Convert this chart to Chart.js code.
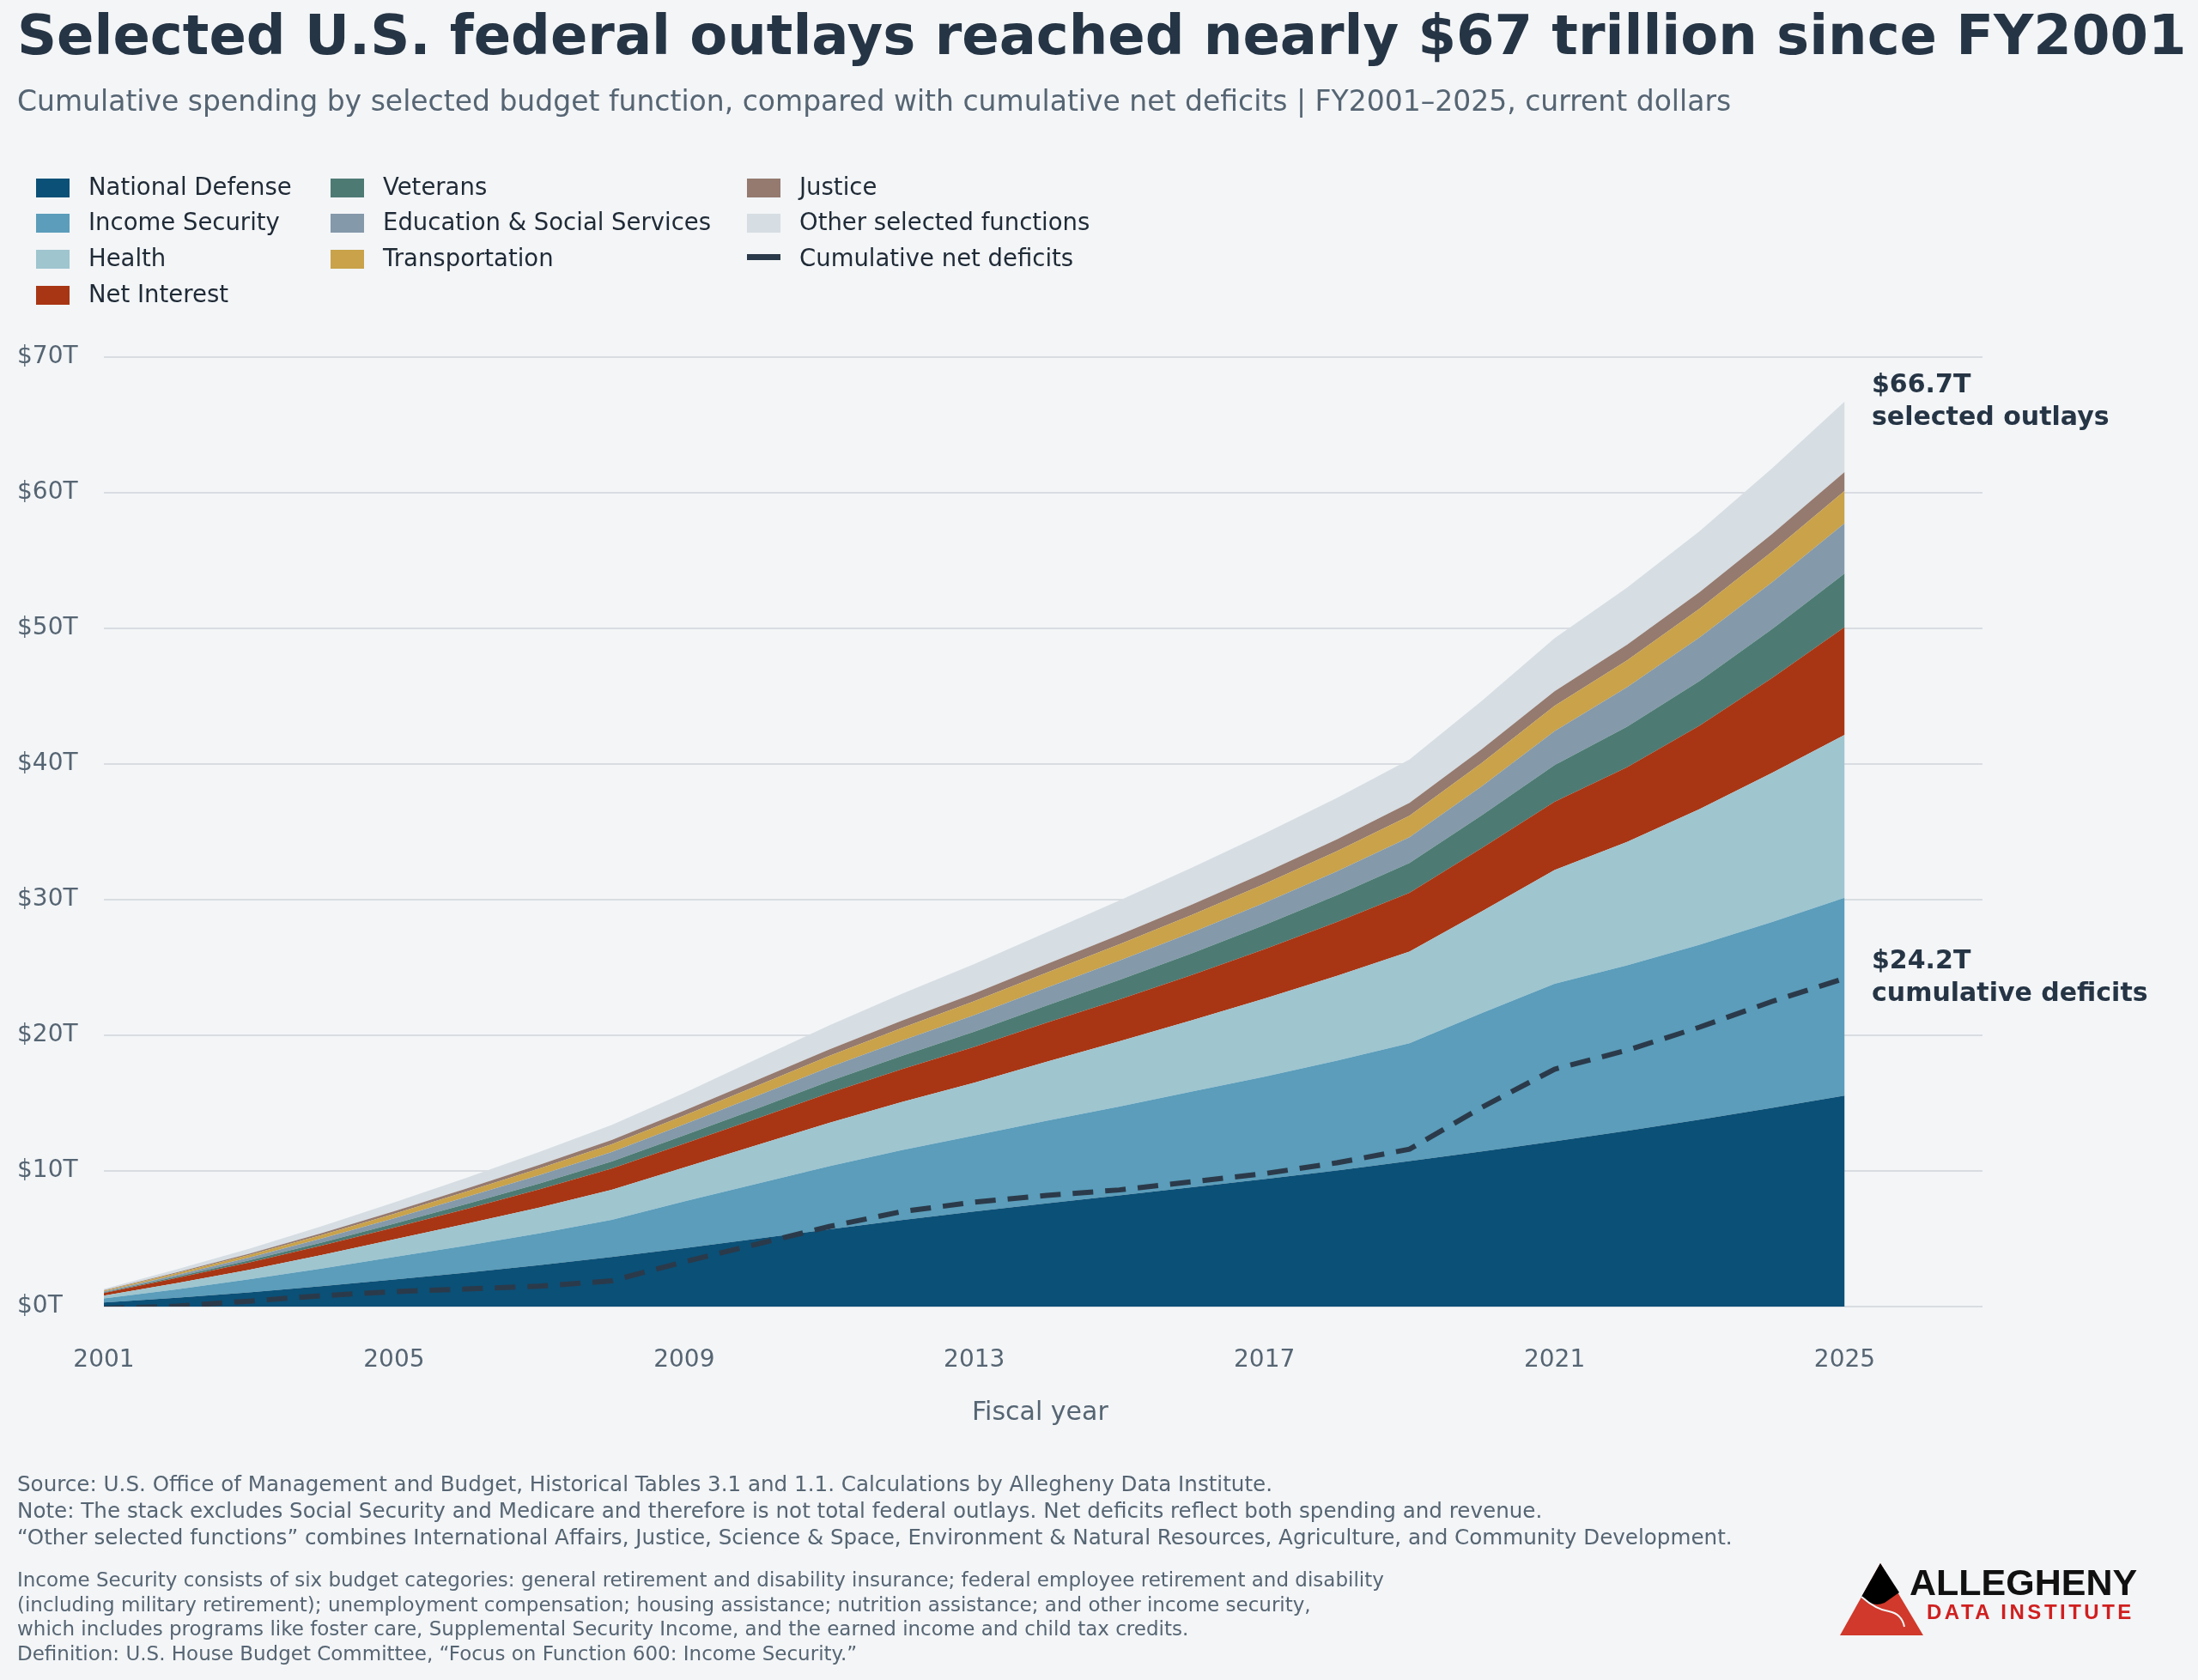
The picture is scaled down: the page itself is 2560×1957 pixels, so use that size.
<!DOCTYPE html>
<html>
<head>
<meta charset="utf-8">
<script src="https://cdn.jsdelivr.net/npm/chart.js@4/dist/chart.umd.min.js"></script>
<style>
  body { margin: 0; background: #f3f5f7; font-family: "DejaVu Sans", sans-serif; }
  #wrap { position: relative; width: 2560px; height: 1957px; overflow: hidden; }
  canvas { position: absolute; left: 0; top: 0; }
  .t { position: absolute; white-space: nowrap; }
  .lg { position: absolute; font-size: 27.5px; color: #1f2a36; white-space: nowrap; }
  .lg i { display: inline-block; width: 39px; height: 22px; vertical-align: -3px; margin-right: 22px; }
  .lg b { display: inline-block; width: 39px; height: 7px; background: #2b3a4a; vertical-align: 7px; margin-right: 22px; }
</style>
</head>
<body>
<div id="wrap">
  <canvas id="myChart" width="2560" height="1957"></canvas>
  <div class="t" style="left:20px;top:4px;font-size:64px;font-weight:bold;color:#263545;">Selected U.S. federal outlays reached nearly $67 trillion since FY2001</div>
  <div class="t" style="left:20px;top:98px;font-size:33px;color:#566573;">Cumulative spending by selected budget function, compared with cumulative net deficits | FY2001–2025, current dollars</div>
  <div id="legend"></div>
  <div class="t" style="left:2180px;top:428px;font-size:30px;font-weight:bold;color:#263545;line-height:38px;">$66.7T<br>selected outlays</div>
  <div class="t" style="left:2180px;top:1099px;font-size:30px;font-weight:bold;color:#263545;line-height:38px;">$24.2T<br>cumulative deficits</div>
  <div class="t" style="left:1132px;top:1626px;font-size:30px;color:#566573;">Fiscal year</div>
  <div class="t" style="left:20px;top:1713px;font-size:24.6px;color:#566573;line-height:31px;">Source: U.S. Office of Management and Budget, Historical Tables 3.1 and 1.1. Calculations by Allegheny Data Institute.<br>Note: The stack excludes Social Security and Medicare and therefore is not total federal outlays. Net deficits reflect both spending and revenue.<br>“Other selected functions” combines International Affairs, Justice, Science &amp; Space, Environment &amp; Natural Resources, Agriculture, and Community Development.</div>
  <div class="t" style="left:20px;top:1826px;font-size:23px;color:#566573;line-height:28.5px;">Income Security consists of six budget categories: general retirement and disability insurance; federal employee retirement and disability<br>(including military retirement); unemployment compensation; housing assistance; nutrition assistance; and other income security,<br>which includes programs like foster care, Supplemental Security Income, and the earned income and child tax credits.<br>Definition: U.S. House Budget Committee, “Focus on Function 600: Income Security.”</div>
  <svg class="t" style="left:2140px;top:1815px;" width="120" height="100" viewBox="0 0 120 100">
    <polygon points="3,90 50,6 100,90" fill="#d0392b"/>
    <path d="M50,6 L28,45 Q40,58 55,52 Q65,45 72,40 Z" fill="#000"/>
    <path d="M28,45 Q45,60 60,62 Q75,65 78,80" stroke="#f3f5f7" stroke-width="2" fill="none"/>
  </svg>
  <div class="t" style="left:2224px;top:1819px;font-size:43px;font-weight:bold;color:#111;font-family:'Liberation Sans',sans-serif;">ALLEGHENY</div>
  <div class="t" style="left:2244px;top:1864px;font-size:24px;font-weight:bold;color:#d01f1f;letter-spacing:3.5px;font-family:'Liberation Sans',sans-serif;">DATA INSTITUTE</div>
</div>
<script>
"use strict";

// 年度
const years = [2001, 2002, 2003, 2004, 2005, 2006, 2007, 2008, 2009, 2010, 2011, 2012, 2013,
  2014, 2015, 2016, 2017, 2018, 2019, 2020, 2021, 2022, 2023, 2024, 2025];

// 累積支出 (兆ドル)
const nationalDefense = [0.3, 0.65, 1.05, 1.5, 2.0, 2.5, 3.05, 3.65, 4.3, 5.0, 5.7, 6.38, 7.01, 7.61, 8.2, 8.8, 9.4, 10.03, 10.72, 11.44, 12.19, 12.96, 13.78, 14.65, 15.55];
const incomeSecurity = [0.3, 0.62, 0.96, 1.3, 1.65, 2.0, 2.35, 2.75, 3.45, 4.05, 4.65, 5.15, 5.6, 6.1, 6.55, 7.05, 7.55, 8.1, 8.7, 10.2, 11.6, 12.2, 12.9, 13.7, 14.6];
const health = [0.2, 0.45, 0.7, 1.0, 1.3, 1.6, 1.9, 2.2, 2.5, 2.85, 3.2, 3.55, 3.9, 4.35, 4.8, 5.25, 5.75, 6.25, 6.75, 7.5, 8.4, 9.1, 10.0, 11.0, 12.0];
const netInterest = [0.2, 0.38, 0.53, 0.69, 0.87, 1.1, 1.34, 1.57, 1.76, 1.96, 2.2, 2.42, 2.64, 2.87, 3.1, 3.35, 3.65, 3.97, 4.34, 4.68, 5.03, 5.5, 6.15, 7.0, 7.95];
const veterans = [0.045, 0.1, 0.16, 0.22, 0.29, 0.36, 0.43, 0.52, 0.62, 0.73, 0.86, 0.98, 1.12, 1.27, 1.43, 1.6, 1.78, 1.98, 2.2, 2.42, 2.7, 3.0, 3.3, 3.6, 3.95];
const education = [0.06, 0.13, 0.21, 0.3, 0.4, 0.52, 0.62, 0.71, 0.8, 0.93, 1.03, 1.13, 1.22, 1.31, 1.43, 1.53, 1.64, 1.76, 1.89, 2.13, 2.5, 2.9, 3.2, 3.45, 3.7];
const transportation = [0.06, 0.12, 0.19, 0.26, 0.33, 0.4, 0.48, 0.56, 0.65, 0.75, 0.84, 0.93, 1.02, 1.11, 1.2, 1.3, 1.39, 1.49, 1.59, 1.73, 1.87, 1.99, 2.12, 2.26, 2.4];
const justice = [0.03, 0.065, 0.1, 0.14, 0.18, 0.22, 0.27, 0.32, 0.37, 0.42, 0.48, 0.53, 0.58, 0.63, 0.69, 0.75, 0.81, 0.87, 0.94, 1.01, 1.08, 1.15, 1.22, 1.3, 1.38];
const otherFunctions = [0.1, 0.22, 0.36, 0.5, 0.65, 0.8, 0.95, 1.1, 1.3, 1.55, 1.77, 1.98, 2.17, 2.35, 2.53, 2.72, 2.9, 3.05, 3.2, 3.55, 3.9, 4.2, 4.5, 4.85, 5.2];
const netDeficits = [-0.13, 0.03, 0.4, 0.8, 1.1, 1.3, 1.5, 1.9, 3.3, 4.6, 5.9, 7.0, 7.7, 8.2, 8.6, 9.2, 9.8, 10.6, 11.6, 14.7, 17.5, 18.9, 20.6, 22.5, 24.2];

const yTicks = [0, 10, 20, 30, 40, 50, 60, 70];

const layers = [
  ["National Defense", nationalDefense, "#0b5077"],
  ["Income Security", incomeSecurity, "#5b9dba"],
  ["Health", health, "#9fc5cf"],
  ["Net Interest", netInterest, "#a83614"],
  ["Veterans", veterans, "#4d7b74"],
  ["Education & Social Services", education, "#8499aa"],
  ["Transportation", transportation, "#c9a24a"],
  ["Justice", justice, "#957a6f"],
  ["Other selected functions", otherFunctions, "#d6dde3"]
];

const toPoints = arr => arr.map((v, i) => ({x: years[i], y: v}));

const datasets = layers.map((l, i) => ({
  label: l[0],
  data: toPoints(l[1]),
  backgroundColor: l[2],
  borderWidth: 0,
  pointRadius: 0,
  tension: 0,
  fill: i === 0 ? "origin" : "-1",
  stack: "outlays",
  order: 2
}));
datasets.push({
  label: "Cumulative net deficits",
  data: toPoints(netDeficits),
  borderColor: "#2b3a4a",
  borderWidth: 6,
  borderDash: [24, 14],
  pointRadius: 0,
  tension: 0,
  fill: false,
  stack: "deficit",
  order: 1
});

// 凡例 (HTML)
const legendCols = [
  [0, 1, 2, 3],
  [4, 5, 6],
  [7, 8, 9]
];
const colX = [42, 385, 870];
const rowY = [201, 242, 284, 326];
let html = "";
legendCols.forEach((col, c) => {
  col.forEach((idx, r) => {
    const mark = idx < layers.length
      ? '<i style="background:' + layers[idx][2] + '"></i>'
      : "<b></b>";
    const name = idx < layers.length ? layers[idx][0] : "Cumulative net deficits";
    html += '<div class="lg" style="left:' + colX[c] + 'px;top:' + rowY[r] + 'px">' + mark + name.replace("&", "&amp;") + "</div>";
  });
});
document.getElementById("legend").innerHTML = html;

Chart.defaults.font.family = "'DejaVu Sans', sans-serif";
const ctx = document.getElementById("myChart").getContext("2d");
new Chart(ctx, {
  type: "line",
  data: {datasets: datasets},
  options: {
    responsive: false,
    animation: false,
    layout: {padding: {top: 416, right: 251, bottom: 285, left: 20}},
    plugins: {legend: {display: false}, tooltip: {enabled: false}},
    scales: {
      x: {
        type: "linear",
        min: 2001,
        max: 2026.9,
        grid: {display: false},
        border: {display: false},
        afterBuildTicks: s => { s.ticks = years.filter(y => (y - 2001) % 4 === 0).map(v => ({value: v})); },
        afterFit: s => { s.height = 150; },
        ticks: {font: {size: 28}, color: "#566573", padding: 38, maxRotation: 0,
          callback: v => String(v)}
      },
      y: {
        stacked: true,
        min: 0,
        max: 70,
        afterBuildTicks: s => { s.ticks = yTicks.map(v => ({value: v})); },
        afterFit: s => { s.width = 101; },
        grid: {color: "#d9dde2", lineWidth: 2, drawTicks: false},
        border: {display: false},
        ticks: {font: {size: 28}, color: "#566573", crossAlign: "far", padding: 10,
          callback: v => "$" + v + "T"}
      }
    }
  }
});
</script>
</body>
</html>
